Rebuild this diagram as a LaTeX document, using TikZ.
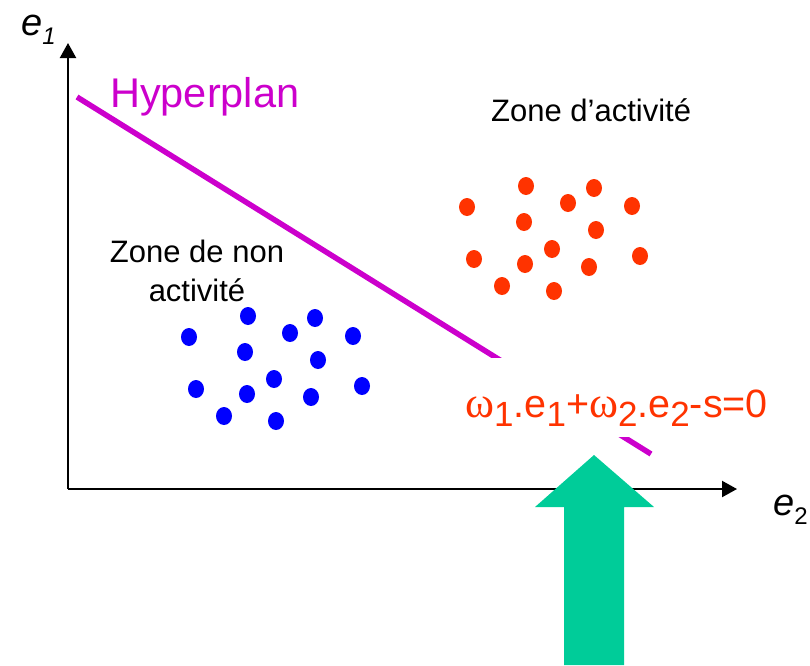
\documentclass[tikz,border=0pt]{standalone}
\usepackage{fontspec}
\setmainfont{Liberation Sans}
\newfontfamily\greekfont{Liberation Serif}
\usetikzlibrary{arrows.meta}
\definecolor{magentaH}{HTML}{CC00CC}
\definecolor{redA}{HTML}{FF3300}
\definecolor{blueN}{HTML}{0000FF}
\definecolor{greenA}{HTML}{00CC99}
\newcommand\eqsub[1]{\raisebox{-0.24em}{\fontsize{35}{35}\selectfont #1}}
\newcommand\omg{{\greekfont\fontsize{44}{44}\selectfont ω}}
\tikzset{
  axisline/.style={line width=2.2pt, -{Triangle[length=15pt,width=16pt]}},
  hyper/.style={line width=5.5pt, magentaH},
  zonetext/.style={font=\fontsize{31}{39}\selectfont, inner sep=0pt},
  bluedot/.style={fill=blueN},
  reddot/.style={fill=redA},
}
\begin{document}
\begin{tikzpicture}[x=1pt,y=-1pt]
\useasboundingbox (0,0) rectangle (810,665);
% axes
\coordinate (O) at (68,489);
\coordinate (Ytip) at (68,43);
\coordinate (Xtip) at (737,489);
\draw[axisline] (O) -- (Ytip);
\draw[axisline] (O) -- (Xtip);
\node[anchor=base west, inner sep=0pt, font=\fontsize{38}{38}\selectfont\itshape] (e1) at (21,35) {e\raisebox{-0.25em}{\fontsize{24}{24}\selectfont 1}};
\node[anchor=base west, inner sep=0pt, font=\fontsize{38}{38}\selectfont\itshape] (e2) at (773,515) {e\raisebox{-0.25em}{\fontsize{24}{24}\selectfont\upshape 2}};
% hyperplane
\coordinate (H1) at (77,97);
\coordinate (H2) at (651,454);
\draw[hyper] (H1) -- (H2);
\node[anchor=base west, inner sep=0pt, text=magentaH, font=\fontsize{41.5}{41.5}\selectfont] (hyp) at (110,107) {Hyperplan};
% zone labels
\node[zonetext, anchor=base west] (za) at (491,121) {Zone d’activité};
\node[zonetext, anchor=base] (zn1) at (197,262) {Zone de non};
\node[zonetext, anchor=base] (zn2) at (197,301) {activité};
% equation
\node[anchor=base west, fill=white, inner sep=0pt, text height=59pt, text depth=20pt, text=redA, font=\fontsize{39.5}{39.5}\selectfont] (eq) at (465,417)
  {\omg\eqsub{1}.e\eqsub{1}+\omg\eqsub{2}.e\eqsub{2}-s=0};
% dots
\foreach \x/\y in {189/337,248/316,290/333,315/318,353/336,245/352,318/360,196/389,247/394,274/379,311/397,362/386,224/416,276/421}
  \fill[bluedot] (\x,\y) ellipse [x radius=8, y radius=9];
\foreach \x/\y in {467/207,526/186,568/203,594/188,632/206,524/222,596/230,474/259,525/264,552/249,589/267,640/256,502/286,554/291}
  \fill[reddot] (\x,\y) ellipse [x radius=8, y radius=9];
% green arrow
\fill[greenA] (594,455) -- (654,507) -- (624,507) -- (624,665) -- (564,665) -- (564,507) -- (535,507) -- cycle;
\end{tikzpicture}
\end{document}
